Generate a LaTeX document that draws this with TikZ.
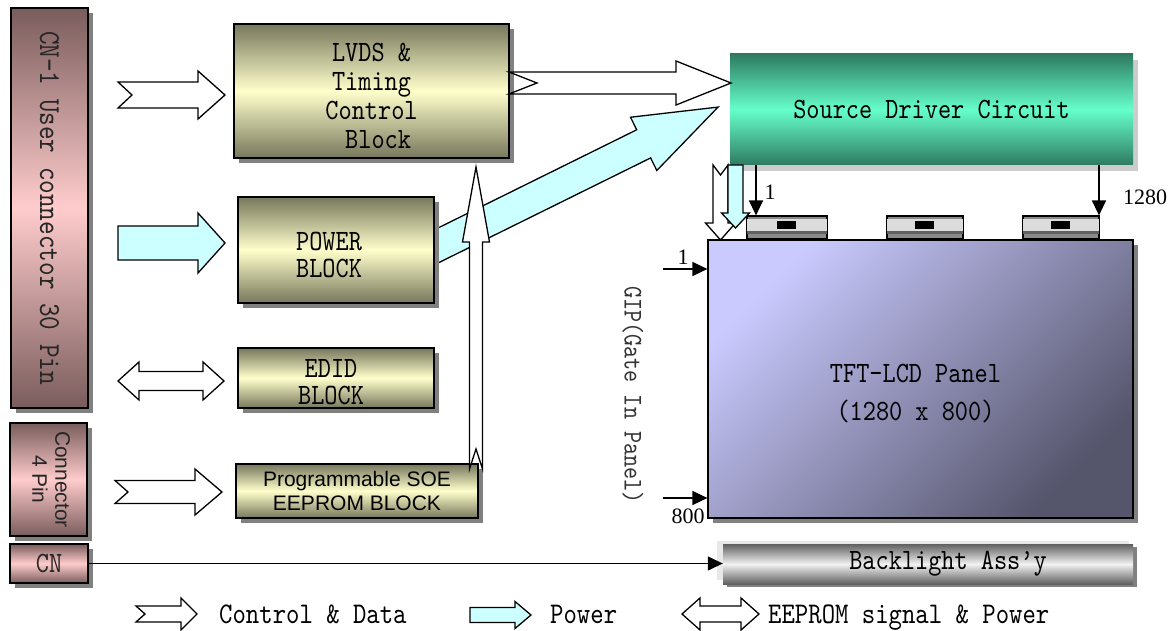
\documentclass[tikz,border=0pt]{standalone}
\usepackage{fontspec}
\usepackage{graphicx}
\newfontfamily\simfont{lmmono10-regular}[Extension=.otf, FakeStretch=0.85]
\newfontfamily\arialfont{Liberation Sans}
\newfontfamily\timesfont{Liberation Serif}
\usetikzlibrary{arrows.meta,shadows,patterns}
\definecolor{olivedark}{HTML}{77775C}
\definecolor{olivelight}{HTML}{FFFFCC}
\definecolor{mauvedark}{HTML}{7A5C5C}
\definecolor{mauvelight}{HTML}{FFCCCC}
\definecolor{greendark}{HTML}{2E7B60}
\definecolor{greenlight}{HTML}{66FFCC}
\definecolor{panellight}{HTML}{CACAFF}
\definecolor{paneldark}{HTML}{55556C}
\definecolor{bldark}{HTML}{606060}
\definecolor{bllight}{HTML}{F2F2F2}
\definecolor{cyanfill}{HTML}{CCFFFF}
\definecolor{shadowgray}{HTML}{808080}
\definecolor{chipgray}{HTML}{8A8A8A}
\definecolor{chiplight}{HTML}{DCDCDC}
\definecolor{chipdark}{HTML}{606060}
% right-pointing block arrow: style, xL, xR, yc, shaft half, head half, head length, notch
\newcommand\BArrowR[8]{\draw[#1] (#2,{#4-#5}) -- ({#3-#7},{#4-#5}) -- ({#3-#7},{#4-#6}) -- (#3,#4) -- ({#3-#7},{#4+#6}) -- ({#3-#7},{#4+#5}) -- (#2,{#4+#5}) -- ({#2+#8},#4) -- cycle;}
% double block arrow: style, xL, xR, yc, shaft half, head half, head length
\newcommand\BArrowLR[7]{\draw[#1] (#2,#4) -- ({#2+#7},{#4-#6}) -- ({#2+#7},{#4-#5}) -- ({#3-#7},{#4-#5}) -- ({#3-#7},{#4-#6}) -- (#3,#4) -- ({#3-#7},{#4+#6}) -- ({#3-#7},{#4+#5}) -- ({#2+#7},{#4+#5}) -- ({#2+#7},{#4+#6}) -- cycle;}
% down block arrow: style, xc, yTop, yTip, shaft half, head half, head length, notch
\newcommand\BArrowD[8]{\draw[#1] ({#2-#5},#3) -- (#2,{#3+#8}) -- ({#2+#5},#3) -- ({#2+#5},{#4-#7}) -- ({#2+#6},{#4-#7}) -- (#2,#4) -- ({#2-#6},{#4-#7}) -- ({#2-#5},{#4-#7}) -- cycle;}
% up block arrow: style, xc, yTail, yTip, shaft half, head half, head length, notch
\newcommand\BArrowU[8]{\draw[#1] ({#2-#5},#3) -- (#2,{#3-#8}) -- ({#2+#5},#3) -- ({#2+#5},{#4+#7}) -- ({#2+#6},{#4+#7}) -- (#2,#4) -- ({#2-#6},{#4+#7}) -- ({#2-#5},{#4+#7}) -- cycle;}
\tikzset{
  monofont/.style={font=\simfont\fontsize{29.5}{29}\selectfont},
  blk/.style={rectangle, draw=black, line width=1.4pt, inner sep=0pt, align=center, monofont,
    general shadow={fill=shadowgray, shadow xshift=5pt, shadow yshift=-5pt}},
  oliveblk/.style={blk, top color=olivedark, bottom color=olivedark, middle color=olivelight},
  cnbox/.style={blk, top color=mauvedark, bottom color=mauvedark, middle color=mauvelight, text=black!85},
  srcbox/.style={rectangle, inner sep=0pt, monofont, top color=greendark, bottom color=greendark, middle color=greenlight,
    general shadow={fill=gray!40, shadow xshift=5pt, shadow yshift=-6pt}},
  panelbox/.style={rectangle, draw=black, line width=1.2pt, inner sep=0pt, top color=panellight, bottom color=paneldark, shading angle=45,
    general shadow={fill=shadowgray, shadow xshift=5pt, shadow yshift=-5pt}},
  blbox/.style={rectangle, inner sep=0pt, monofont, top color=bldark, bottom color=bldark, middle color=bllight,
    general shadow={fill=shadowgray, shadow xshift=4pt, shadow yshift=-3pt}},
  chip/.style={rectangle, draw=black, line width=1.2pt, fill=chipgray, inner sep=0pt},
  boxtext/.style={align=center, inner sep=0pt},
  wa/.style={draw=black, line width=1.3pt, fill=white, line join=miter},
  ca/.style={draw=black, line width=1.3pt, fill=cyanfill, line join=miter},
  thinarrow/.style={draw=black, line width=1.3pt, -{Triangle[length=15pt,width=14pt]}},
  numtext/.style={font=\timesfont\fontsize{22}{22}\selectfont, inner sep=0pt},
  legtext/.style={font=\simfont\fontsize{30}{30}\selectfont, inner sep=0pt, anchor=base west},
}
\begin{document}
\begin{tikzpicture}[x=1pt,y=-1pt]
\fill[white] (0,0) rectangle (1173,631);
\useasboundingbox (0,0) rectangle (1173,631);

% connectors on the left
\node[cnbox, minimum width=77pt, minimum height=400pt] (cn1) at (49.5,208)
  {\rotatebox{-90}{\simfont\fontsize{30.5}{30}\selectfont CN-1 User connector 30 Pin}};
\node[cnbox, minimum width=77pt, minimum height=113pt] (con4) at (48.5,479.5)
  {\rotatebox{-90}{\arialfont\fontsize{21}{23}\selectfont\begin{tabular}{@{}c@{}}Connector\\4 Pin\end{tabular}}};
\node[cnbox, minimum width=78pt, minimum height=39pt] (cn) at (49,563.5) {CN};

% panel, chips, backlight
\node[panelbox, minimum width=425pt, minimum height=278pt,
  label={[name=paneltext, boxtext, font=\simfont\fontsize{29.5}{38}\selectfont, yshift=-15pt, xshift=-5pt]center:{TFT-LCD Panel\\(1280 x 800)}}] (panel) at (920.5,379) {};
\node[chip, minimum width=80pt, minimum height=23pt] (chip1) at (787,227.5) {};
\node[chip, minimum width=76pt, minimum height=23pt] (chip2) at (925,227.5) {};
\node[chip, minimum width=76pt, minimum height=23pt] (chip3) at (1061,227.5) {};
\foreach \c in {chip1,chip2,chip3}{
  \fill[chiplight] ([yshift=-4pt]\c.north west) rectangle ([yshift=9pt]\c.south east);
  \fill[chipdark] ([yshift=9pt]\c.south west) rectangle ([yshift=6pt]\c.south east);
  \fill[black] ([xshift=-10pt,yshift=-6pt]\c.north) rectangle ([xshift=9pt,yshift=-14pt]\c.north);
  \draw[line width=1.2pt] (\c.north west) rectangle (\c.south east);
}
\fill[gray!18] (717,541) rectangle (1129,580);
\node[blbox, minimum width=410pt, minimum height=40pt] (bl) at (928,564) {\hspace*{40pt}Backlight Ass’y};

% diagonal power arrow (under the power block)
\begin{scope}[shift={(420,254.4)}, rotate=26.3]
  \draw[ca] (0,-15.7) -- (249.5,-15.7) -- (249.5,-29.7) -- (332.5,0) -- (249.5,29.7) -- (249.5,15.7) -- (0,15.7) -- cycle;
\end{scope}

% blocks
\node[oliveblk, minimum width=275pt, minimum height=134pt,
  label={[name=lvdstext, boxtext, font=\simfont\fontsize{29.5}{29}\selectfont, yshift=-5pt]center:{LVDS \&\\Timing\\Control\\~Block}}] (lvds) at (371.5,91) {};
\node[oliveblk, minimum width=196pt, minimum height=106pt,
  label={[name=powertext, boxtext, font=\simfont\fontsize{29.5}{27}\selectfont, yshift=-5pt, xshift=-7pt]center:{POWER\\BLOCK}}] (power) at (336,250) {};
\node[oliveblk, minimum width=196pt, minimum height=60pt,
  label={[name=edidtext, boxtext, font=\simfont\fontsize{29.5}{27}\selectfont, yshift=-4pt, xshift=-5pt]center:{EDID\\BLOCK}}] (edid) at (336,378) {};
\node[oliveblk, minimum width=242pt, minimum height=54pt, font=\arialfont\fontsize{21}{24}\selectfont] (soe) at (357,491) {Programmable SOE\\EEPROM BLOCK};

% vertical control arrow from SOE to LVDS
\BArrowU{wa}{476}{469}{167}{6.5}{13.5}{75}{20}

% block arrows from connectors
\BArrowR{wa}{118}{225}{95}{13}{24}{27}{14}
\BArrowR{ca}{118}{225}{243}{17}{30}{27}{0}
\BArrowLR{wa}{118}{224}{381}{9.5}{19}{21}
\BArrowR{wa}{115}{222}{492}{11.5}{23}{27}{13}

% source driver
\node[srcbox, minimum width=403pt, minimum height=111pt] (src) at (931.5,109.5) {Source Driver Circuit};
\BArrowR{wa}{509}{731}{83}{11}{22}{55}{28}
\BArrowD{wa}{720.5}{165}{240}{7.5}{15}{17}{10}
\BArrowD{ca}{735.5}{165}{228}{7.5}{14}{15}{0}

% thin arrows
\coordinate (s1) at (756,165);
\coordinate (s1280) at (1099,165);
\draw[thinarrow] (s1) -- (s1 |- chip1.north);
\draw[thinarrow] (s1280) -- (s1280 |- chip3.north);
\coordinate (g1) at (663,269);
\coordinate (g800) at (663,498);
\draw[thinarrow] (g1) -- (g1 -| panel.west);
\draw[thinarrow] (g800) -- (g800 -| panel.west);
\draw[thinarrow] (cn.east) -- (cn.east -| bl.west);

\node[numtext] (n1) at (770,192) {1};
\node[numtext] (n1280) at (1145,197) {1280};
\node[numtext] (ng1) at (683,257) {1};
\node[numtext] (ng800) at (688,516) {800};
\node[font=\simfont\fontsize{27}{27}\selectfont, text=black!80, rotate=-90, inner sep=0pt] (gip) at (633,395) {GIP(Gate In Panel)};

% legend
\BArrowR{wa}{136}{197}{614}{8}{16}{16}{9}
\node[legtext] (lg1) at (219,623) {Control \& Data};
\BArrowR{ca}{470}{531}{615}{7.5}{13.5}{16}{0}
\node[legtext] (lg2) at (550,623) {Power};
\BArrowLR{wa}{682}{759}{614}{8}{16}{18}
\node[legtext] (lg3) at (768,623) {EEPROM signal \& Power};
\end{tikzpicture}
\end{document}
